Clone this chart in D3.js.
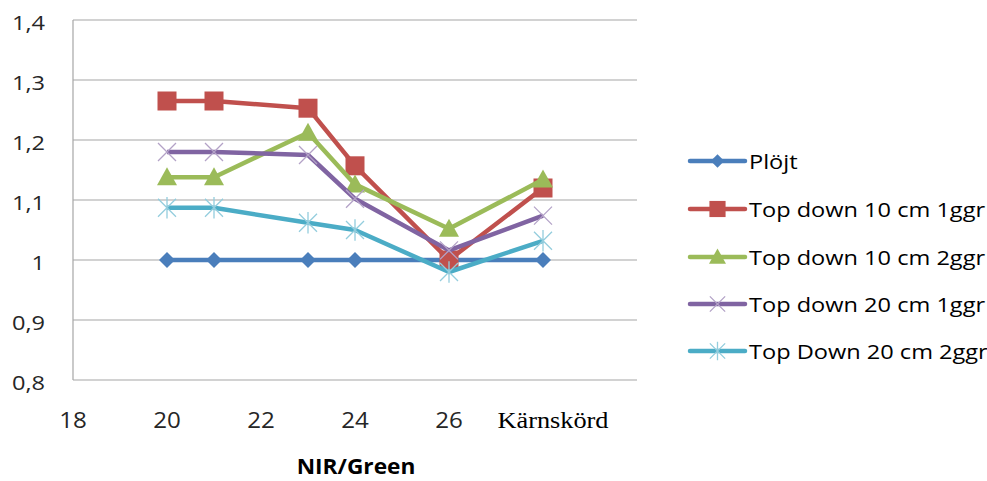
<!DOCTYPE html>
<html><head><meta charset="utf-8">
<script src="https://cdn.jsdelivr.net/npm/d3@7"></script>
<style>body{margin:0;background:#fff}svg{display:block}</style>
</head><body>
<svg id="chart" width="987" height="481"></svg>
<script>
// Measurement positions along NIR/Green (28 = Kärnskörd)
const xValues = [20, 21, 23, 24, 26, 28];
const seriesNames = ["Plöjt", "Top down 10 cm 1ggr", "Top down 10 cm 2ggr", "Top down 20 cm 1ggr", "Top Down 20 cm 2ggr"];
const plojt   = [1.0, 1.0, 1.0, 1.0, 1.0, 1.0];
const td10x1  = [1.265, 1.265, 1.253, 1.157, 1.0, 1.12];
const td10x2  = [1.138, 1.138, 1.212, 1.126, 1.052, 1.134];
const td20x1  = [1.18, 1.18, 1.175, 1.102, 1.016, 1.074];
const td20x2  = [1.087, 1.087, 1.062, 1.05, 0.98, 1.032];
const yTicks = [0.8, 0.9, 1.0, 1.1, 1.2, 1.3, 1.4];
const xTicks = [18, 20, 22, 24, 26];
const xCategoryLabel = "Kärnskörd";
const xTitle = "NIR/Green";

const colors = ["#4A7EBB", "#C0504D", "#9BBB59", "#8064A2", "#4BACC6"];
const markers = ["diamond", "square", "triangle", "x", "star"];
const values = [plojt, td10x1, td10x2, td20x1, td20x2];

const svg = d3.select("#chart");
const x = d3.scaleLinear().domain([18, 30]).range([73, 637]);
const y = d3.scaleLinear().domain([0.8, 1.4]).range([380, 20]);
const font = "'Open Sans', 'Liberation Sans', sans-serif";
const stretch = 1.15; // text is drawn slightly widened

// place a text at (px, py) with horizontal widening
function label(sel, px, py, s) {
  return sel.attr("transform", `translate(${px},${py}) scale(${s || stretch},1)`);
}

// horizontal gridlines
svg.append("g").selectAll("line").data(yTicks.filter(d => d > 0.8)).join("line")
  .attr("x1", x(18)).attr("x2", x(30))
  .attr("y1", d => y(d)).attr("y2", d => y(d))
  .attr("stroke", "#a6a6a6").attr("stroke-width", 1.2);

// axis lines
svg.append("line").attr("x1", x(18)).attr("x2", x(18)).attr("y1", y(1.4)).attr("y2", y(0.8))
  .attr("stroke", "#a6a6a6").attr("stroke-width", 1.2);
svg.append("line").attr("x1", x(18)).attr("x2", x(30)).attr("y1", y(0.8)).attr("y2", y(0.8))
  .attr("stroke", "#a6a6a6").attr("stroke-width", 1.2);

// y tick labels
const fmt = d => d === 1 ? "1" : d3.format(".1f")(d).replace(".", ",");
svg.append("g").selectAll("text").data(yTicks).join("text")
  .each(function (d) { label(d3.select(this), 45, y(d) + 10); })
  .attr("text-anchor", "end").attr("font-family", font).attr("font-size", 20.5)
  .attr("fill", "#262626").text(fmt);

// x tick labels
svg.append("g").selectAll("text").data(xTicks).join("text")
  .each(function (d) { label(d3.select(this), x(d), 428); })
  .attr("text-anchor", "middle").attr("font-family", font).attr("font-size", 21)
  .attr("fill", "#262626").text(d => d);
label(svg.append("text"), x(28) + 10, 428, 1.17)
  .attr("text-anchor", "middle").attr("font-family", "'Liberation Serif', 'Times New Roman', serif")
  .attr("font-size", 22.5).attr("fill", "#000").text(xCategoryLabel);

// x axis title
label(svg.append("text"), 356, 474, 1.08)
  .attr("text-anchor", "middle")
  .attr("font-family", font).attr("font-size", 21).attr("font-weight", "bold")
  .attr("fill", "#000").text(xTitle);

function drawMarker(g, type, color, cx, cy, s) {
  if (type === "diamond") {
    const r = 8 * s;
    g.append("path").attr("d", `M${cx},${cy - r}L${cx + r},${cy}L${cx},${cy + r}L${cx - r},${cy}Z`).attr("fill", color);
  } else if (type === "square") {
    const r = 9.5 * s;
    g.append("rect").attr("x", cx - r).attr("y", cy - r).attr("width", 2 * r).attr("height", 2 * r).attr("fill", color);
  } else if (type === "triangle") {
    const r = 10 * s;
    g.append("path").attr("d", `M${cx},${cy - r}L${cx + r},${cy + r * 0.8}L${cx - r},${cy + r * 0.8}Z`).attr("fill", color);
  } else if (type === "x") {
    const r = 9 * s;
    g.append("path").attr("d", `M${cx - r},${cy - r}L${cx + r},${cy + r}M${cx - r},${cy + r}L${cx + r},${cy - r}`)
      .attr("stroke", "#B3A2C7").attr("stroke-width", 1.3).attr("fill", "none");
  } else if (type === "star") {
    const r = 9 * s;
    g.append("path").attr("d", `M${cx - r},${cy - r}L${cx + r},${cy + r}M${cx - r},${cy + r}L${cx + r},${cy - r}M${cx},${cy - r * 1.2}L${cx},${cy + r * 1.2}`)
      .attr("stroke", "#93CDDD").attr("stroke-width", 1.3).attr("fill", "none");
  }
}

const line = d3.line().x((d, i) => x(xValues[i])).y(d => y(d));
values.forEach((vals, k) => {
  const g = svg.append("g");
  g.append("path").datum(vals).attr("d", line).attr("fill", "none")
    .attr("stroke", colors[k]).attr("stroke-width", 4.5).attr("stroke-linejoin", "round");
  vals.forEach((v, i) => drawMarker(g, markers[k], colors[k], x(xValues[i]), y(v), 1));
});

// legend
const legendY = [161, 209, 257, 304, 351];
seriesNames.forEach((name, k) => {
  const g = svg.append("g");
  g.append("line").attr("x1", 690).attr("x2", 745).attr("y1", legendY[k]).attr("y2", legendY[k])
    .attr("stroke", colors[k]).attr("stroke-width", 4.5).attr("stroke-linecap", "round");
  drawMarker(g, markers[k], colors[k], 717.5, legendY[k], 0.85);
  label(g.append("text"), 749, legendY[k] + 7.5)
    .attr("font-family", font).attr("font-size", 20.5).attr("fill", "#000").text(name);
});
</script>
</body></html>
